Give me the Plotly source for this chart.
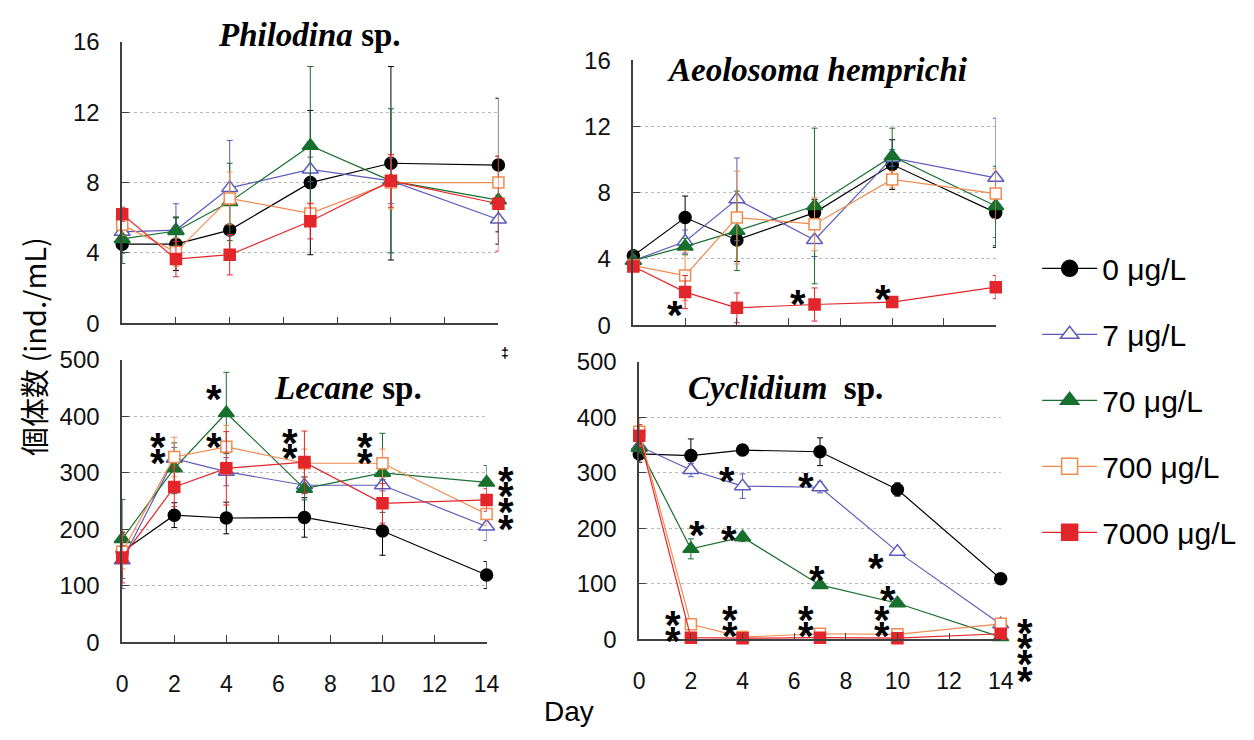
import plotly.graph_objects as go

# ---------------- data ----------------
DAYS = [0, 2, 4, 7, 10, 14]
CONC_LABELS = ["0 μg/L", "7 μg/L", "70 μg/L", "700 μg/L", "7000 μg/L"]

# Philodina sp. (ind./mL), one row per concentration: 0, 7, 70, 700, 7000 μg/L
PHIL_MEAN = [
    [4.5, 4.5, 5.3, 8.0, 9.1, 9.0],
    [5.2, 5.3, 7.7, 8.75, 8.1, 5.9],
    [4.8, 5.25, 6.9, 10.1, 8.1, 7.0],
    [5.6, 4.05, 7.1, 6.25, 8.0, 8.0],
    [6.2, 3.65, 3.9, 5.8, 8.1, 6.8],
]
PHIL_ERR = [
    [0.5, 1.5, 1.4, 4.1, 5.5, 3.8],
    [0.5, 1.5, 2.7, 0.7, 1.3, 1.4],
    [1.4, 0.8, 2.2, 4.5, 4.1, 2.5],
    [0.6, 0.8, 1.5, 0.6, 1.5, 1.5],
    [0.4, 1.0, 1.15, 1.0, 1.5, 2.7],
]

# Aeolosoma hemprichi (ind./mL)
AEOL_MEAN = [
    [4.2, 6.5, 5.15, 6.8, 9.7, 6.8],
    [3.9, 5.05, 7.6, 5.15, 10.1, 8.9],
    [3.9, 4.75, 5.7, 7.2, 10.2, 7.2],
    [3.6, 3.0, 6.5, 6.1, 8.8, 7.95],
    [3.55, 2.0, 1.05, 1.25, 1.4, 2.3],
]
AEOL_ERR = [
    [0.3, 1.3, 1.3, 0.8, 1.5, 2.1],
    [0.3, 0.7, 2.5, 1.0, 0.5, 3.6],
    [0.6, 0.5, 2.4, 4.7, 1.7, 2.4],
    [0.3, 1.5, 2.8, 1.6, 0.5, 1.5],
    [0.3, 1.0, 0.9, 1.0, 0.2, 0.7],
]

# Lecane sp. (ind./mL)
LEC_MEAN = [
    [160, 225, 220, 221, 197, 119],
    [145, 325, 302, 278, 278, 205],
    [183, 308, 406, 272, 300, 283],
    [160, 328, 346, 317, 317, 227],
    [150, 275, 308, 319, 246, 252],
]
LEC_ERR = [
    [10, 22, 28, 35, 43, 24],
    [50, 20, 25, 15, 10, 25],
    [70, 45, 72, 20, 70, 30],
    [30, 35, 38, 25, 25, 20],
    [45, 35, 65, 55, 35, 20],
]

# Cyclidium sp. (ind./mL)
CYC_MEAN = [
    [334, 331, 341, 338, 270, 109],
    [348, 305, 276, 274, 158, 27],
    [345, 163, 184, 98, 65, 4],
    [374, 27, 4, 10, 9, 28],
    [367, 3, 2, 3, 2, 10],
]
CYC_ERR = [
    [15, 30, 10, 25, 12, 5],
    [10, 12, 22, 10, 5, 3],
    [10, 18, 8, 5, 5, 2],
    [25, 3, 2, 2, 2, 3],
    [20, 2, 2, 2, 2, 3],
]

X_TICKS = [0, 2, 4, 6, 8, 10, 12, 14]
SMALL_TICKS = [0, 4, 8, 12, 16]
LARGE_TICKS = [0, 100, 200, 300, 400, 500]

# significance marks (day, value) per panel
STARS_AEOL = [(1.6, 1.15), (6.35, 1.85), (9.65, 2.1)]
STARS_LEC = [(3.53, 447), (1.39, 362), (1.39, 333), (3.53, 362),
             (6.43, 368), (6.43, 342), (9.33, 362), (9.33, 333),
             (14.75, 302), (14.75, 275), (14.75, 246), (14.75, 217)]
STARS_CYC = [(3.39, 302), (6.44, 290), (2.25, 204), (3.46, 195), (9.17, 144),
             (6.89, 123), (9.62, 87), (1.3, 42), (1.3, 13), (3.52, 51), (3.52, 23),
             (6.44, 51), (6.44, 23), (9.4, 51), (9.4, 23),
             (14.95, 28), (14.95, 0), (14.95, -29), (14.95, -58)]

# ---------------- styles ----------------
COLORS = ["#000000", "#5b5bbd", "#17702d", "#f28a50", "#e3262b"]
SYMBOLS = ["circle", "triangle-up", "triangle-up", "square", "square"]
FILLS = ["#000000", "#ffffff", "#17702d", "#ffffff", "#e3262b"]
SIZES = [12, 14, 14, 11, 11]

W, H = 1254, 740
X_MAX = 14


def px_dom_x(a, b):
    return [a / W, b / W]


def px_dom_y(top, bottom):
    return [1 - bottom / H, 1 - top / H]


panels = [
    ("Philodina", PHIL_MEAN, PHIL_ERR, "x", "y"),
    ("Aeolosoma", AEOL_MEAN, AEOL_ERR, "x2", "y2"),
    ("Lecane", LEC_MEAN, LEC_ERR, "x3", "y3"),
    ("Cyclidium", CYC_MEAN, CYC_ERR, "x4", "y4"),
]

fig = go.Figure()
for pi, (name, means, errs, xa, ya) in enumerate(panels):
    for ci in range(5):
        fig.add_trace(go.Scatter(
            x=DAYS, y=means[ci], xaxis=xa, yaxis=ya,
            mode="lines+markers",
            name=CONC_LABELS[ci], legendgroup=CONC_LABELS[ci],
            showlegend=False,
            line=dict(color=COLORS[ci], width=1.2),
            marker=dict(symbol=SYMBOLS[ci], size=SIZES[ci], color=FILLS[ci],
                        line=dict(color=COLORS[ci], width=1.5)),
            error_y=dict(type="data", array=errs[ci], color=COLORS[ci],
                         thickness=1, width=3),
            cliponaxis=False,
        ))

# legend entries (no data, larger legend symbols)
for ci in range(5):
    fig.add_trace(go.Scatter(
        x=[None], y=[None], mode="lines+markers",
        name=CONC_LABELS[ci], legendgroup=CONC_LABELS[ci], showlegend=True,
        line=dict(color=COLORS[ci], width=1.2),
        marker=dict(symbol=SYMBOLS[ci], size=16, color=FILLS[ci],
                    line=dict(color=COLORS[ci], width=1.5)),
    ))

FONT = "Liberation Sans, Arial, sans-serif"
AX_COL = "#404040"


def xaxis(dom, anchor, labels):
    return dict(domain=dom, anchor=anchor, range=[0, X_MAX], tickvals=X_TICKS,
                showticklabels=labels, ticks="inside", ticklen=7, tickcolor=AX_COL,
                tickwidth=1.2, showline=True, linecolor=AX_COL, linewidth=1.5,
                showgrid=False, zeroline=False, ticklabelstandoff=20,
                tickfont=dict(size=23, color="#111", family=FONT))


def yaxis(dom, anchor, rng, ticks):
    return dict(domain=dom, anchor=anchor, range=rng, tickvals=ticks,
                ticks="inside", ticklen=7, tickcolor=AX_COL, tickwidth=1.2,
                showline=True, linecolor=AX_COL, linewidth=1.5,
                showgrid=True, gridcolor="#b8b8b8", griddash="dot", gridwidth=1,
                zeroline=False, ticklabelstandoff=16,
                tickfont=dict(size=24, color="#111", family=FONT))


annotations = []
TITLE_FONT = dict(family="Liberation Serif, Times New Roman, serif", size=33, color="#000")
for text, cx, cy in [
    ("<b><i>Philodina</i> sp.</b>", 308, 22),
    ("<b><i>Aeolosoma hemprichi</i></b>", 824, 58),
    ("<b><i>Lecane</i> sp.</b>", 347, 388),
    ("<b><i>Cyclidium</i>  sp.</b>", 791, 388),
]:
    annotations.append(dict(text=text, x=cx / W, y=1 - cy / H, xref="paper", yref="paper",
                            showarrow=False, font=TITLE_FONT, xanchor="center", yanchor="middle"))

STAR_FONT = dict(family="Liberation Sans, Arial", size=40, color="#000")
for stars, xr, yr, ymax in [(STARS_AEOL, "x2", "y2", 16), (STARS_LEC, "x3", "y3", 500),
                            (STARS_CYC, "x4", "y4", 500)]:
    for sx, sy in stars:
        annotations.append(dict(text="<b>*</b>", x=sx / X_MAX, y=sy / ymax,
                                xref=xr + " domain", yref=yr + " domain", showarrow=False,
                                font=STAR_FONT, xanchor="center", yanchor="middle", yshift=-9))

annotations.append(dict(text="<b>‡</b>", x=507 / W, y=1 - 352 / H, xref="paper", yref="paper",
                        showarrow=False, font=dict(size=14, color="#000", family=FONT)))

annotations.append(dict(text="個体数 (ind./mL)", x=28 / W, y=1 - 345 / H, xref="paper", yref="paper",
                        textangle=-90, showarrow=False, xanchor="center", yanchor="middle",
                        font=dict(size=29, color="#000", family="Noto Sans CJK JP, Liberation Sans")))
annotations.append(dict(text="Day", x=572 / W, y=1 - 724 / H, xref="paper", yref="paper",
                        showarrow=False, xanchor="center", yanchor="middle",
                        font=dict(size=28, color="#000", family=FONT)))

fig.update_layout(
    width=W, height=H, margin=dict(l=0, r=0, t=0, b=0, pad=0),
    paper_bgcolor="white", plot_bgcolor="white",
    font=dict(family=FONT),
    xaxis=xaxis(px_dom_x(118, 500), "y", False),
    yaxis=yaxis(px_dom_y(29, 321), "x", [0, 16], SMALL_TICKS),
    xaxis2=xaxis(px_dom_x(637, 1005), "y2", False),
    yaxis2=yaxis(px_dom_y(48, 323), "x2", [0, 16], SMALL_TICKS),
    xaxis3=xaxis(px_dom_x(118, 488), "y3", True),
    yaxis3=yaxis(px_dom_y(359, 652), "x3", [0, 500], LARGE_TICKS),
    xaxis4=xaxis(px_dom_x(643, 1010), "y4", True),
    yaxis4=yaxis(px_dom_y(361, 649), "x4", [0, 500], LARGE_TICKS),
    legend=dict(x=1047 / W, y=1 - 237 / H, xanchor="left", yanchor="top",
                font=dict(size=30, color="#000", family=FONT), itemwidth=55,
                tracegroupgap=24, bgcolor="rgba(0,0,0,0)"),
    annotations=annotations,
    showlegend=True,
)

fig.write_html("out.html")
